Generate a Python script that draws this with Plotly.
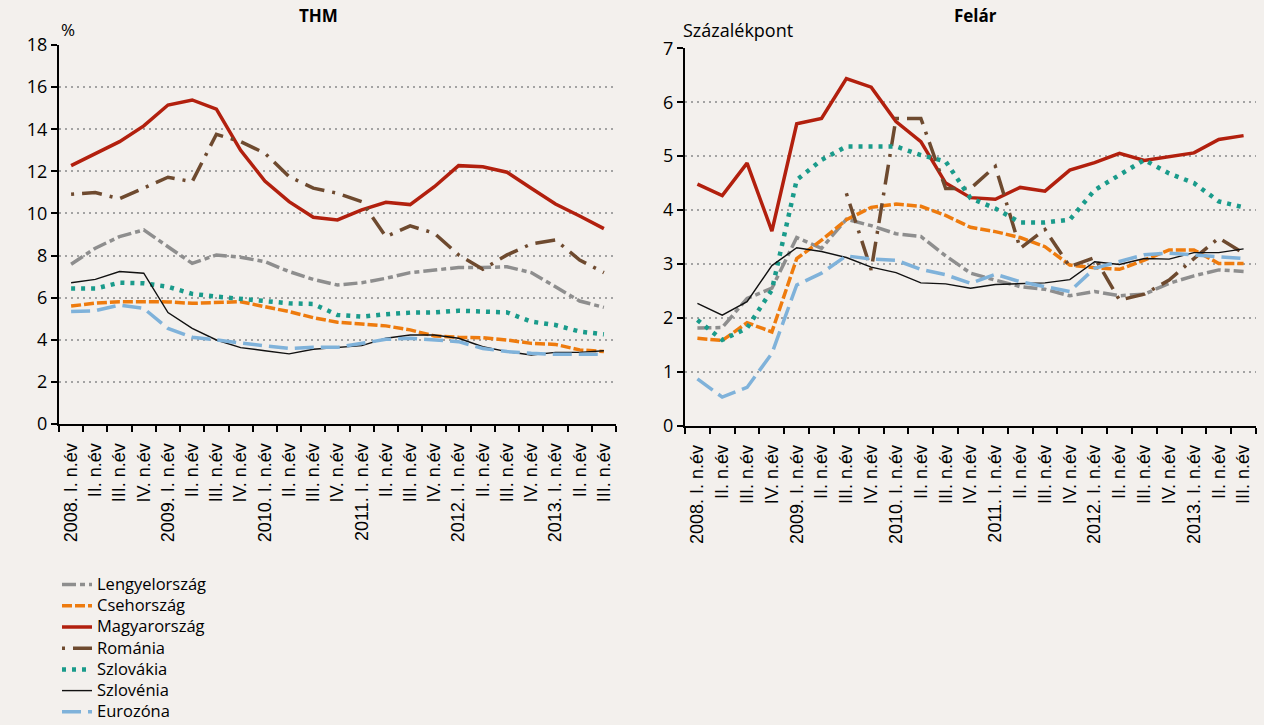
import plotly.graph_objects as go

quarters = ["2008. I. n.év", "II. n.év", "III. n.év", "IV. n.év",
            "2009. I. n.év", "II. n.év", "III. n.év", "IV. n.év",
            "2010. I. n.év", "II. n.év", "III. n.év", "IV. n.év",
            "2011. I. n.év", "II. n.év", "III. n.év", "IV. n.év",
            "2012. I. n.év", "II. n.év", "III. n.év", "IV. n.év",
            "2013. I. n.év", "II. n.év", "III. n.év"]
xpos = list(range(len(quarters)))

series_names = ["Lengyelország", "Csehország", "Magyarország", "Románia",
                "Szlovákia", "Szlovénia", "Eurozóna"]

# THM (%)
thm_lengyel = [7.59, 8.35, 8.9, 9.22, 8.42, 7.63, 8.03, 7.92, 7.71, 7.24, 6.87, 6.6,
               6.71, 6.92, 7.19, 7.32, 7.43, 7.43, 7.47, 7.19, 6.52, 5.84, 5.54]
thm_cseh = [5.6, 5.74, 5.81, 5.81, 5.8, 5.73, 5.76, 5.81, 5.57, 5.34, 5.05, 4.83,
            4.75, 4.66, 4.47, 4.18, 4.12, 4.1, 3.99, 3.83, 3.78, 3.52, 3.44]
thm_magyar = [12.27, 12.86, 13.41, 14.16, 15.15, 15.39, 14.95, 13.0, 11.54, 10.56, 9.82, 9.69,
              10.17, 10.53, 10.42, 11.27, 12.27, 12.22, 11.96, 11.2, 10.45, 9.88, 9.28]
thm_roman = [10.91, 10.99, 10.7, 11.23, 11.72, 11.51, 13.76, 13.41, 12.86, 11.75, 11.2, 10.96,
             10.56, 8.9, 9.41, 9.06, 8.03, 7.35, 8.03, 8.55, 8.74, 7.79, 7.19]
thm_szlovak = [6.43, 6.43, 6.71, 6.68, 6.52, 6.18, 6.05, 5.92, 5.84, 5.73, 5.7, 5.18,
               5.1, 5.21, 5.29, 5.3, 5.38, 5.34, 5.3, 4.86, 4.7, 4.39, 4.26]
thm_szloven = [6.71, 6.87, 7.24, 7.16, 5.29, 4.54, 3.99, 3.63, 3.48, 3.33, 3.55, 3.63,
               3.72, 4.07, 4.23, 4.23, 4.07, 3.67, 3.44, 3.28, 3.4, 3.4, 3.48]
thm_euro = [5.34, 5.38, 5.65, 5.49, 4.54, 4.12, 3.99, 3.83, 3.71, 3.59, 3.64, 3.64,
            3.83, 4.02, 4.07, 3.99, 3.91, 3.59, 3.44, 3.36, 3.31, 3.31, 3.31]

# Felár (százalékpont)
fel_lengyel = [1.81, 1.82, 2.36, 2.55, 3.49, 3.29, 3.83, 3.71, 3.56, 3.51, 3.15, 2.83,
               2.7, 2.58, 2.53, 2.41, 2.49, 2.41, 2.44, 2.64, 2.78, 2.89, 2.86]
fel_cseh = [1.62, 1.58, 1.91, 1.74, 3.1, 3.44, 3.82, 4.05, 4.11, 4.07, 3.9, 3.68,
            3.6, 3.49, 3.32, 2.98, 2.93, 2.9, 3.07, 3.26, 3.26, 3.01, 3.01]
fel_magyar = [4.48, 4.27, 4.87, 3.61, 5.6, 5.7, 6.44, 6.28, 5.64, 5.27, 4.5, 4.23,
              4.2, 4.42, 4.35, 4.74, 4.88, 5.05, 4.92, 4.99, 5.06, 5.31, 5.38]
fel_roman = [None, None, None, None, None, None, 4.31, 2.89, 5.7, 5.7, 4.4, 4.4,
             4.81, 3.29, 3.64, 2.95, 3.12, 2.33, 2.44, 2.7, 3.1, 3.48, 3.2]
fel_szlovak = [1.96, 1.59, 1.81, 2.52, 4.56, 4.93, 5.18, 5.18, 5.18, 5.02, 4.9, 4.22,
               4.03, 3.77, 3.77, 3.82, 4.37, 4.65, 4.93, 4.68, 4.5, 4.16, 4.05]
fel_szloven = [2.27, 2.05, 2.3, 2.97, 3.3, 3.23, 3.12, 2.94, 2.84, 2.65, 2.63, 2.55,
               2.62, 2.64, 2.65, 2.71, 3.04, 2.99, 3.1, 3.09, 3.21, 3.21, 3.28]
fel_euro = [0.87, 0.53, 0.71, 1.34, 2.61, 2.83, 3.15, 3.09, 3.07, 2.9, 2.8, 2.64,
            2.81, 2.67, 2.58, 2.49, 2.92, 3.05, 3.17, 3.2, 3.17, 3.14, 3.1]

thm_data = [thm_lengyel, thm_cseh, thm_magyar, thm_roman, thm_szlovak, thm_szloven, thm_euro]
fel_data = [fel_lengyel, fel_cseh, fel_magyar, fel_roman, fel_szlovak, fel_szloven, fel_euro]

styles = [
    dict(color="#8E8E8E", width=3.5, dash="14px,4px,5px,4px"),
    dict(color="#EE7B0E", width=3.5, dash="10px,3px"),
    dict(color="#B2200E", width=3.5, dash="solid"),
    dict(color="#6E4A2F", width=3.5, dash="3px,8px,20px,8px"),
    dict(color="#1A9B8B", width=4.5, dash="4px,6px"),
    dict(color="#111111", width=1.4, dash="solid"),
    dict(color="#7FB2DA", width=3.5, dash="19px,7px"),
]

bg = "#F3F0ED"
fig = go.Figure()
for name, ys, st in zip(series_names, thm_data, styles):
    fig.add_trace(go.Scatter(x=xpos, y=ys, mode="lines", line=st,
                             name="<span style='font-size:16.5px'>" + name + "</span>",
                             xaxis="x", yaxis="y", showlegend=True))
for name, ys, st in zip(series_names, fel_data, styles):
    fig.add_trace(go.Scatter(x=xpos, y=ys, name=name, mode="lines", line=st,
                             xaxis="x2", yaxis="y2", showlegend=False,
                             connectgaps=False))

W, H = 1264, 725

def px(x):
    return x / W

def py(y):
    return 1 - y / H

def xaxis_def(d0, d1, anchor):
    return dict(
        domain=[px(d0), px(d1)], anchor=anchor, automargin=False,
        range=[-0.5, len(quarters) - 0.5],
        tickmode="array", tickvals=xpos, ticktext=quarters,
        tickangle=-90, ticks="outside", ticklen=10, tickcolor="rgba(0,0,0,0)",
        showgrid=False, zeroline=False,
        showline=True, linecolor="black", linewidth=2,
        tickfont=dict(family="Liberation Sans, Arial, sans-serif", size=18, color="black"),
        minor=dict(tickmode="linear", tick0=-0.5, dtick=1, ticks="outside",
                   ticklen=6, tickwidth=2, tickcolor="black", showgrid=False),
    )

def yaxis_def(top, bottom, anchor, rng, dt):
    return dict(
        domain=[py(bottom), py(top)], anchor=anchor, automargin=False,
        range=rng, dtick=dt, tick0=0,
        ticks="outside", ticklen=6, tickwidth=2, tickcolor="black",
        showline=True, linecolor="black", linewidth=2,
        showgrid=True, gridcolor="#A3A3A3", gridwidth=1.5, griddash="2px,4px",
        zeroline=False,
        tickfont=dict(family="Open Sans, sans-serif", size=18, color="black"),
    )

fig.update_layout(
    width=W, height=H, autosize=False,
    margin=dict(l=0, r=0, t=0, b=0, autoexpand=False),
    paper_bgcolor=bg, plot_bgcolor=bg,
    xaxis=xaxis_def(59, 616, "y"),
    yaxis=yaxis_def(45, 424, "x", [0, 18], 2),
    xaxis2=xaxis_def(685, 1256, "y2"),
    yaxis2=yaxis_def(48.3, 425.7, "x2", [0, 7], 1),
    legend=dict(x=px(57), y=py(569), xanchor="left", yanchor="top",
                bgcolor="rgba(0,0,0,0)",
                font=dict(family="Open Sans, sans-serif", size=14, color="black"),
                itemwidth=30, tracegroupgap=0, traceorder="normal"),
    annotations=[
        dict(text="<b>THM</b>", x=px(318), y=py(16), xref="paper", yref="paper",
             showarrow=False, xanchor="center", yanchor="middle",
             font=dict(family="Open Sans, sans-serif", size=17, color="black")),
        dict(text="<b>Felár</b>", x=px(975), y=py(16), xref="paper", yref="paper",
             showarrow=False, xanchor="center", yanchor="middle",
             font=dict(family="Open Sans, sans-serif", size=17, color="black")),
        dict(text="%", x=px(59), y=py(30), xref="paper", yref="paper",
             showarrow=False, xanchor="left", yanchor="middle",
             font=dict(family="Open Sans, sans-serif", size=17, color="black")),
        dict(text="Százalékpont", x=px(681), y=py(30), xref="paper", yref="paper",
             showarrow=False, xanchor="left", yanchor="middle",
             font=dict(family="Open Sans, sans-serif", size=18, color="black")),
    ],
)

fig.write_html(
    "out.html",
    config=dict(displayModeBar=False),
    post_script="document.body.style.margin='0';document.body.style.background='" + bg + "';",
)
